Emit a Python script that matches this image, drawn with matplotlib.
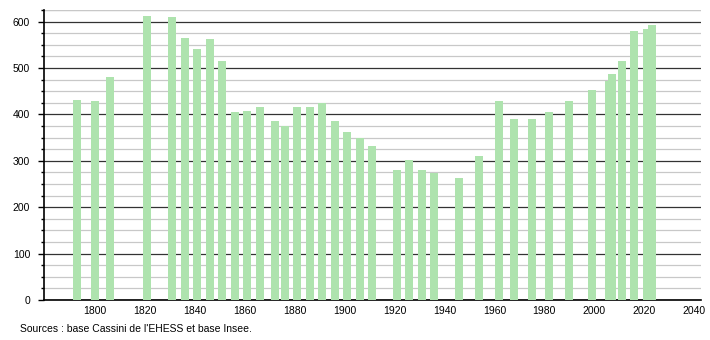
import matplotlib
matplotlib.use("Agg")
import matplotlib.pyplot as plt
from matplotlib.ticker import MultipleLocator

years = [1793, 1800, 1806, 1821, 1831, 1836, 1841, 1846, 1851, 1856,
         1861, 1866, 1872, 1876, 1881, 1886, 1891, 1896, 1901, 1906,
         1911, 1921, 1926, 1931, 1936, 1946, 1954, 1962, 1968, 1975,
         1982, 1990, 1999, 2006, 2007, 2011, 2016, 2021, 2023]
population = [432, 428, 480, 611, 609, 564, 540, 562, 516, 406,
              408, 417, 385, 376, 415, 415, 425, 385, 361, 350,
              331, 281, 302, 281, 274, 264, 311, 428, 391, 391,
              406, 428, 452, 473, 486, 516, 579, 585, 592]
xticks = [1800, 1820, 1840, 1860, 1880, 1900, 1920, 1940, 1960, 1980, 2000, 2020, 2040]
source_text = "Sources : base Cassini de l'EHESS et base Insee."

plt.rcParams['font.family'] = ['Liberation Sans', 'DejaVu Sans']

fig = plt.figure(figsize=(7.1, 3.4), dpi=100)
ax = fig.add_axes([44/710, 1-300/340, (701-44)/710, (300-10)/340])

ax.bar(years, population, width=3.2, color='#aee3ae', zorder=3, linewidth=0)

ax.set_xlim(1779.7, 2042.7)
ax.set_ylim(0, 625)
ax.yaxis.set_major_locator(MultipleLocator(100))
ax.yaxis.set_minor_locator(MultipleLocator(25))
ax.set_xticks(xticks)
ax.set_xticklabels([str(x) for x in xticks])

ax.grid(axis='y', which='major', color='#333333', linewidth=0.9, zorder=1)
ax.grid(axis='y', which='minor', color='#c8c8c8', linewidth=0.9, zorder=1)
ax.axhline(625, color='#c8c8c8', linewidth=0.9, zorder=1)

for s in ['top', 'right']:
    ax.spines[s].set_visible(False)
ax.spines['left'].set_color('black')
ax.spines['bottom'].set_color('black')
ax.spines['left'].set_linewidth(1.2)
ax.spines['bottom'].set_linewidth(1.2)

ax.tick_params(axis='y', which='major', length=4, width=1, direction='out', pad=6, labelsize=7.5, colors='black')
ax.tick_params(axis='y', which='minor', length=2.5, width=1, direction='out')
ax.tick_params(axis='x', which='both', length=0, pad=4, labelsize=7.5)

fig.text(20/710, 1-329/340, source_text, fontsize=7.5, ha='left', va='center')

fig.savefig('out.png', dpi=100)
